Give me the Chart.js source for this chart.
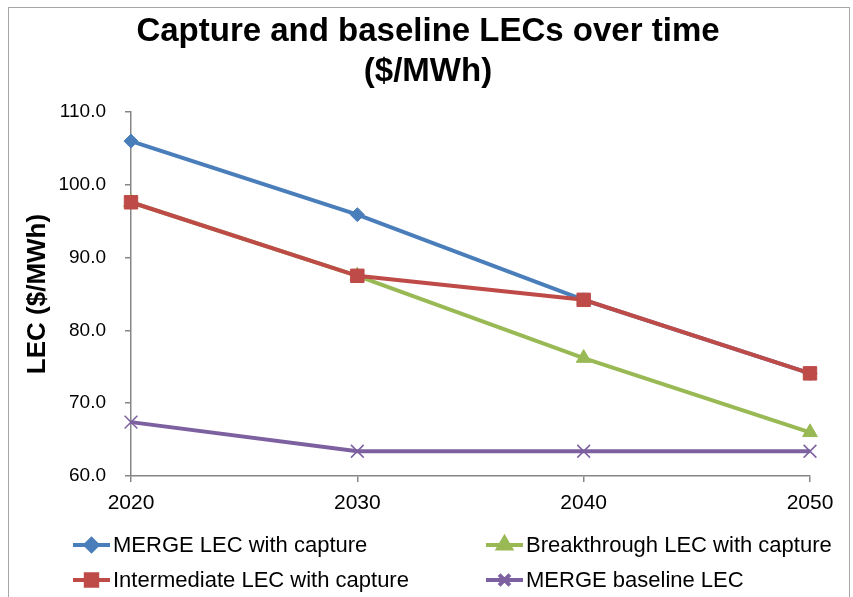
<!DOCTYPE html>
<html>
<head>
<meta charset="utf-8">
<script src="https://cdn.jsdelivr.net/npm/chart.js"></script>
<style>
  html, body { margin: 0; padding: 0; background: #fff; }
  #wrap { width: 853px; height: 597px; }
</style>
</head>
<body>
<div id="wrap"><canvas id="lecChart" width="853" height="597"></canvas></div>
<script>
// data
const years = [2020, 2030, 2040, 2050];
const mergeCapture = [106.0, 95.9, 84.2, 74.1];
const breakthroughCapture = [97.6, 87.5, 76.2, 66.0];
const intermediateCapture = [97.6, 87.5, 84.2, 74.1];
const mergeBaseline = [67.4, 63.4, 63.4, 63.4];
const yTicks = [60, 70, 80, 90, 100, 110];
const titleLines = ['Capture and baseline LECs over time', '($/MWh)'];

const FONT = "'Liberation Sans', Arial, Helvetica, sans-serif";

function series(label, values, color, style, radius, order) {
  return {
    label: label,
    data: years.map((y, i) => ({ x: y, y: values[i] })),
    borderColor: color,
    backgroundColor: color,
    borderWidth: 4,
    pointStyle: style,
    pointRadius: radius,
    pointBorderWidth: style === 'crossRot' ? 1.5 : 1,
    pointBackgroundColor: color,
    pointBorderColor: color,
    tension: 0,
    clip: false,
    order: order
  };
}

const datasets = [
  series('MERGE LEC with capture', mergeCapture, '#4a7ebb', 'rectRot', 7, 3),
  series('Breakthrough LEC with capture', breakthroughCapture, '#98b954', 'triangle', 8.5, 2),
  series('Intermediate LEC with capture', intermediateCapture, '#be4b48', 'rect', 9.5, 1),
  series('MERGE baseline LEC', mergeBaseline, '#7d60a0', 'crossRot', 9, 0)
];

// legend positions (2 columns like the original)
const legendSlots = [
  { x: 73, y: 545 },
  { x: 486, y: 545 },
  { x: 73, y: 580 },
  { x: 486, y: 580 }
];

const frameTitleLegend = {
  id: 'frameTitleLegend',
  beforeDraw(chart) {
    const c = chart.ctx;
    c.save();
    c.strokeStyle = '#a6a6a6';
    c.lineWidth = 1;
    c.strokeRect(8.5, 7.5, 841, 600);
    c.restore();
  },
  afterDraw(chart) {
    const c = chart.ctx;
    c.save();
    // title
    c.fillStyle = '#000';
    c.font = 'bold 33px ' + FONT;
    c.textAlign = 'center';
    c.textBaseline = 'middle';
    c.fillText(titleLines[0], 428, 32);
    c.fillText(titleLines[1], 428, 72);

    // legend
    chart.data.datasets.forEach((ds, i) => {
      const s = legendSlots[i];
      c.strokeStyle = ds.borderColor;
      c.lineWidth = 4;
      c.beginPath();
      c.moveTo(s.x, s.y);
      c.lineTo(s.x + 37, s.y);
      c.stroke();
      c.fillStyle = ds.backgroundColor;
      Chart.helpers.drawPoint(c, {
        pointStyle: ds.pointStyle,
        radius: ds.pointRadius * 0.85,
        borderWidth: ds.pointStyle === 'crossRot' ? 1 : ds.pointBorderWidth,
        rotation: 0
      }, s.x + 18.5, s.y);
      c.fillStyle = '#000';
      c.font = '22px ' + FONT;
      c.textBaseline = 'middle';
      c.textAlign = 'left';
      c.fillText(ds.label, s.x + 40, s.y + 1);
    });
    c.restore();
  }
};

new Chart(document.getElementById('lecChart').getContext('2d'), {
  type: 'line',
  data: { datasets: datasets },
  options: {
    responsive: false,
    animation: false,
    layout: { padding: { top: 112, left: 10, right: 43, bottom: 80 } },
    plugins: {
      legend: { display: false },
      tooltip: { enabled: false },
      title: { display: false }
    },
    scales: {
      x: {
        type: 'linear',
        min: years[0],
        max: years[years.length - 1],
        afterBuildTicks: (scale) => { scale.ticks = years.map(v => ({ value: v })); },
        afterFit: (scale) => { scale.height = 41; },
        ticks: {
          color: '#000',
          font: { family: FONT, size: 21 },
          padding: 9,
          maxRotation: 0,
          callback: (v) => String(v)
        },
        grid: { drawOnChartArea: false, drawTicks: true, tickLength: 6, color: '#868686', lineWidth: 1.5 },
        border: { display: true, color: '#868686', width: 1.5 }
      },
      y: {
        min: yTicks[0],
        max: yTicks[yTicks.length - 1],
        afterBuildTicks: (scale) => { scale.ticks = yTicks.map(v => ({ value: v })); },
        afterFit: (scale) => { scale.width = 121; },
        ticks: {
          color: '#000',
          font: { family: FONT, size: 19 },
          padding: 19,
          callback: (v) => v.toFixed(1)
        },
        title: {
          display: true,
          text: 'LEC ($/MWh)',
          color: '#000',
          font: { family: FONT, size: 26, weight: 'bold' },
          padding: { top: 12, bottom: 0 }
        },
        grid: { drawOnChartArea: false, drawTicks: true, tickLength: 6, color: '#868686', lineWidth: 1.5 },
        border: { display: true, color: '#868686', width: 1.5 }
      }
    }
  },
  plugins: [frameTitleLegend]
});
</script>
</body>
</html>
